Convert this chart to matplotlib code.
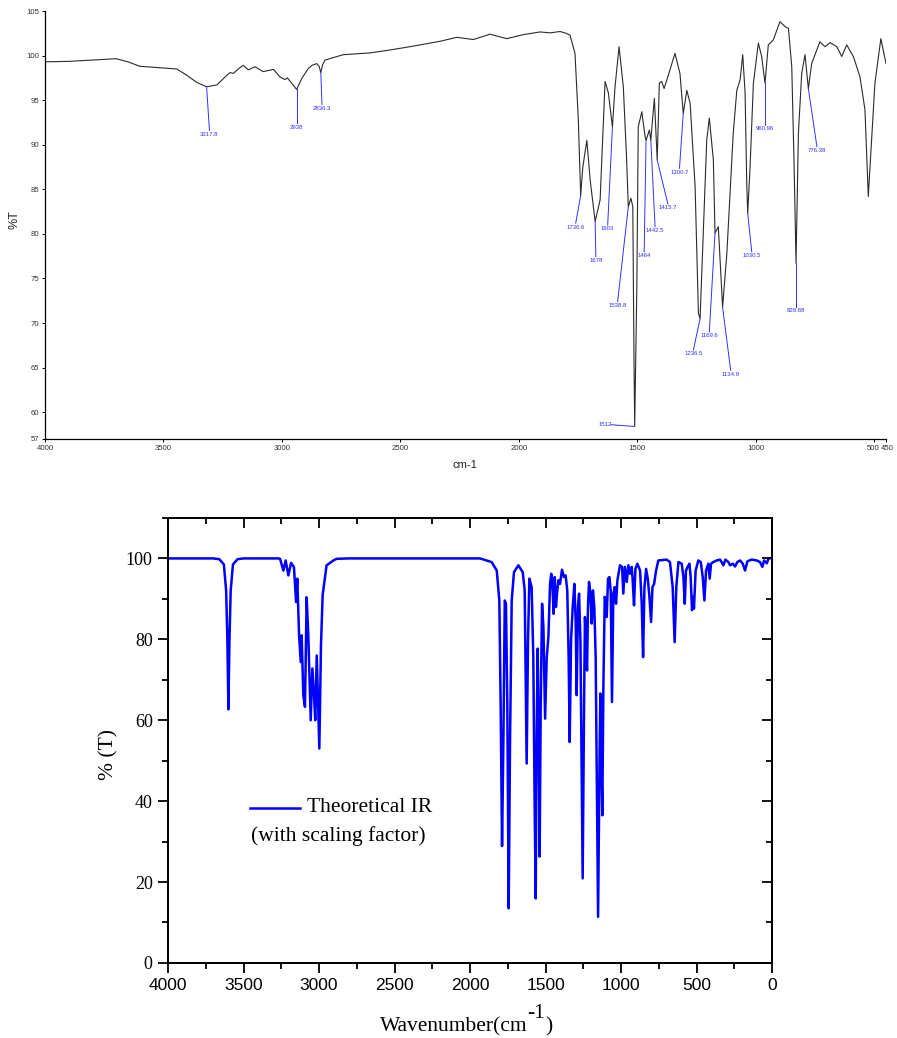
import numpy as np
import matplotlib
matplotlib.use("Agg")
import matplotlib.pyplot as plt
from matplotlib.ticker import MultipleLocator
from matplotlib.transforms import ScaledTranslation

exp_wn = [4000, 3900, 3800, 3700, 3650, 3600, 3500, 3444, 3402, 3360, 3318, 3275, 3240,
          3219, 3205, 3180, 3163, 3142, 3114, 3079, 3036, 3008, 2987, 2977, 2959, 2938,
          2916, 2890, 2874, 2853, 2843, 2836, 2828, 2818, 2741, 2628, 2551, 2459, 2333,
          2262, 2192, 2122, 2051, 1981, 1911, 1868, 1826, 1800, 1784, 1763, 1749, 1739,
          1730, 1713, 1699, 1678, 1657, 1636, 1622, 1605, 1594, 1577, 1559, 1545, 1538,
          1527, 1519, 1514, 1511, 1502, 1496, 1481, 1467, 1463, 1449, 1443, 1428, 1421,
          1416, 1407, 1397, 1387, 1369, 1341, 1320, 1306, 1291, 1277, 1256, 1242, 1235,
          1207, 1196, 1179, 1172, 1158, 1140, 1122, 1095, 1080, 1066, 1055, 1045, 1038,
          1034, 1024, 1010, 989, 975, 961, 947, 926, 898, 876, 862, 848, 838, 830, 820,
          806, 792, 778, 764, 750, 729, 708, 686, 658, 637, 616, 588, 560, 539, 525, 511,
          497, 472, 450]
exp_t = [99.3, 99.35, 99.5, 99.65, 99.3, 98.8, 98.6, 98.5, 97.8, 97.0, 96.5, 96.7, 97.6,
         98.1, 98.0, 98.6, 98.9, 98.4, 98.75, 98.2, 98.45, 97.6, 97.3, 97.5, 96.9, 96.2,
         97.45, 98.5, 98.9, 99.1, 98.8, 98.1, 99.0, 99.5, 100.1, 100.3, 100.6, 101.0, 101.6,
         102.05, 101.8, 102.4, 101.9, 102.35, 102.65, 102.55, 102.7, 102.5, 102.3, 100.25, 92.8, 84.3,
         87.5, 90.5, 86.05, 81.4, 83.8, 97.1, 95.8, 92.0, 96.5, 101.0, 96.5, 88.3, 83.05,
         84.0, 83.05, 65.9, 58.4, 74.1, 92.0, 93.7, 90.9, 90.5, 91.65, 90.5, 95.2, 91.3,
         88.3, 96.9, 97.1, 96.3, 97.8, 100.25, 98.0, 93.5, 96.1, 94.65, 85.3, 71.1, 70.5,
         90.5, 93.0, 88.3, 80.1, 80.8, 71.8, 77.8, 91.3, 96.1, 97.3, 100.1, 95.8, 85.65,
         82.3, 87.5, 96.9, 101.4, 99.9, 96.9, 101.2, 101.75, 103.8, 103.25, 103.05, 98.75, 87.5, 76.7, 91.3,
         98.0, 100.1, 96.3, 99.1, 100.1, 101.55, 101.0, 101.45, 101.0, 99.9, 101.2, 99.9, 97.6, 93.9, 84.2, 90.5,
         96.9, 101.9, 99.1]

# peak annotations: text, peak point, end of leader line
peak_text = ["3317.8", "2938", "2836.3", "1736.6", "1678", "1603", "1538.8", "1512",
             "1464", "1442.5", "1415.7", "1300.7", "1236.5", "1169.6", "1134.9",
             "1030.5", "960.96", "829.88", "776.38"]
peak_x = [3318, 2938, 2836, 1739, 1678, 1605, 1538, 1511, 1463, 1443, 1416, 1306, 1235,
          1172, 1140, 1034, 961, 830, 778]
peak_y = [96.5, 96.2, 98.1, 84.3, 81.4, 92.0, 83.05, 58.4, 90.5, 90.5, 88.3, 93.5, 70.5,
          80.1, 71.8, 82.3, 96.9, 76.7, 96.3]
lead_x = [3306, 2938, 2831, 1760, 1675, 1625, 1583, 1611, 1471, 1425, 1371, 1322, 1263,
          1196, 1106, 1017, 961, 830, 742]
lead_y = [91.6, 92.4, 94.5, 81.2, 77.45, 81.0, 72.4, 58.6, 78.0, 80.8, 83.35, 87.35, 67.0,
          69.0, 64.7, 78.0, 92.2, 71.8, 89.8]

# theoretical IR (bottom panel)
th_wn = [4000, 3700, 3660, 3630, 3615, 3607, 3600, 3593, 3585, 3570, 3540, 3500, 3270,
         3258, 3236, 3221, 3203, 3185, 3166, 3152, 3144, 3132, 3121, 3115, 3104, 3093,
         3082, 3071, 3055, 3044, 3033, 3025, 3015, 2998, 2987, 2976, 2950, 2900, 2883,
         2800, 1934, 1857, 1823, 1806, 1797, 1788, 1779, 1770, 1762, 1753, 1744, 1735,
         1724, 1709, 1680, 1651, 1638, 1629, 1625, 1616, 1607, 1592, 1581, 1572, 1565,
         1559, 1552, 1545, 1539, 1532, 1523, 1514, 1503, 1492, 1481, 1470, 1462, 1453,
         1446, 1439, 1431, 1424, 1415, 1404, 1391, 1378, 1367, 1356, 1347, 1340, 1331,
         1320, 1309, 1300, 1294, 1285, 1278, 1269, 1261, 1254, 1245, 1239, 1230, 1225,
         1219, 1212, 1203, 1194, 1186, 1177, 1168, 1161, 1152, 1142, 1137, 1131, 1124,
         1117, 1108, 1102, 1095, 1086, 1077, 1068, 1060, 1051, 1042, 1033, 1024, 1007,
         993, 985, 974, 962, 951, 940, 929, 923, 914, 905, 892, 874, 863, 854, 845, 834,
         823, 812, 801, 792, 781, 768, 753, 698, 676, 658, 645, 634, 620, 598, 587, 578,
         570, 559, 547, 539, 530, 523, 517, 506, 488, 472, 459, 448, 437, 422, 413, 404,
         389, 366, 344, 322, 309, 289, 278, 260, 245, 230, 212, 194, 179, 163, 135, 102,
         80, 64, 53, 35, 24, 2]
th_t = [100, 100, 99.8, 98.5, 92, 80, 62.7, 80, 92, 98.5, 99.8, 100, 100,
        99.9, 97.0, 99.5, 95.8, 98.9, 97.9, 89.2, 95.0, 81.0, 74.4, 81.0, 66.2, 63.3,
        90.4, 81.0, 60.0, 72.8, 66.2, 60.0, 76.0, 53.0, 78.5, 90.9, 98.3, 99.6, 99.9,
        100, 100, 99.1, 97.0, 89.6, 63.3, 28.9, 55.1, 89.6, 88.8, 63.3, 13.5, 55.1,
        89.6, 96.6, 98.3, 96.6, 92.1, 63.3, 49.3, 79.75, 95.0, 92.9, 75.6, 38.6, 15.96,
        55.1, 77.7, 55.1, 26.3, 63.3, 88.8, 83.0, 60.4, 75.6, 80.6, 93.7, 96.2, 92.1,
        86.3, 95.4, 88.0, 91.3, 94.6, 93.7, 97.2, 95.4, 95.8, 92.1, 75.6, 54.6, 79.75,
        88.0, 93.7, 83.9, 66.2, 88.0, 91.3, 79.75, 46.8, 20.9, 63.3, 85.5, 75.6, 72.3,
        88.0, 94.2, 91.3, 83.9, 92.1, 88.0, 75.6, 46.8, 11.4, 51.8, 66.6, 51.8, 36.5,
        68.2, 90.5, 89.6, 85.5, 95.0, 95.4, 91.7, 64.5, 91.3, 92.9, 88.8, 94.6, 98.3,
        97.9, 91.3, 97.9, 94.2, 98.3, 96.2, 97.9, 94.6, 88.4, 97.4, 98.7, 97.0, 88.8, 75.6, 92.9, 97.4,
        95.0, 90.5, 84.3, 92.9, 93.7, 97.0, 99.5, 99.7, 99.1, 92.9, 79.3, 92.9, 99.1, 98.7, 95.4, 88.8,
        97.0, 97.9, 98.7, 95.4, 87.2, 90.5, 87.6, 97.0, 99.5, 99.1, 95.4, 89.6, 97.0, 98.7, 95.0, 98.7,
        99.1, 99.5, 99.7, 98.3, 99.7, 99.1, 98.3, 98.7, 98.0, 99.1, 99.5, 98.7, 97.0, 99.3, 99.7, 99.5,
        99.1, 97.9, 99.5, 98.8, 99.9, 100.2]

fig = plt.figure(figsize=(8.97, 10.38), dpi=100)
W, H = 897, 1038

# ---------- top panel ----------
ax1 = fig.add_axes([0.0502, 0.5771, 0.9376, 0.4123])
ax1.plot(exp_wn, exp_t, color="#2b2b2b", lw=0.8)
for txt, x0, y0, x1, y1 in zip(peak_text, peak_x, peak_y, lead_x, lead_y):
    ax1.plot([x0, x1], [y0, y1], color="#3030ff", lw=0.7)
    if txt == "1512":
        ax1.text(x1 - 5, y1, txt, fontsize=4.3, color="#3030ff", ha="right", va="center",
                 family="Liberation Sans")
    else:
        ax1.text(x1, y1 - 0.15, txt, fontsize=4.3, color="#3030ff", ha="center", va="top",
                 family="Liberation Sans")
ax1.set_xlim(4000, 450)
ax1.set_ylim(57, 105)
ax1.set_xticks([4000, 3500, 3000, 2500, 2000, 1500, 1000, 500, 450])
ax1.set_yticks([57, 60, 65, 70, 75, 80, 85, 90, 95, 100, 105])
ax1.spines["top"].set_visible(False)
ax1.spines["right"].set_visible(False)
for s in ("left", "bottom"):
    ax1.spines[s].set_linewidth(0.9)
ax1.tick_params(direction="out", length=2.5, width=0.7, labelsize=5.6, pad=1.5,
                labelcolor="#333333")
for lab in ax1.get_xticklabels() + ax1.get_yticklabels():
    lab.set_family("Liberation Sans")
# the 500 and 450 labels sit side by side, as in the original
xl = ax1.get_xticklabels()
xl[-2].set_transform(xl[-2].get_transform() + ScaledTranslation(-1 / 100, 0, fig.dpi_scale_trans))
xl[-1].set_transform(xl[-1].get_transform() + ScaledTranslation(1.5 / 100, 0, fig.dpi_scale_trans))
fig.text(15 / W, 1 - 220 / H, "%T", rotation=90, ha="center", va="center",
         fontsize=9, family="Liberation Sans", color="#222222")
fig.text(465 / W, 1 - 465 / H, "cm-1", ha="center", va="center",
         fontsize=8, family="Liberation Sans", color="#222222")

# ---------- bottom panel ----------
ax2 = fig.add_axes([0.1873, 0.0723, 0.6734, 0.4287])
ax2.plot(th_wn, th_t, color="#0000ff", lw=1.8, solid_joinstyle="round")
ax2.set_xlim(4000, 0)
ax2.set_ylim(0, 110)
ax2.set_xticks(np.arange(0, 4001, 500))
ax2.set_yticks(np.arange(0, 101, 20))
ax2.xaxis.set_minor_locator(MultipleLocator(250))
ax2.yaxis.set_minor_locator(MultipleLocator(10))
for s in ax2.spines.values():
    s.set_linewidth(1.3)
ax2.tick_params(which="major", direction="out", length=7, width=1.3, pad=4)
ax2.tick_params(which="minor", direction="out", length=4, width=1.3)
ax2.tick_params(axis="x", labelsize=12.5)
ax2.tick_params(axis="y", labelsize=13)
for lab in ax2.get_xticklabels():
    lab.set_family("Liberation Sans")
for lab in ax2.get_yticklabels():
    lab.set_family("Liberation Serif")

# mirrored ticks on top and right point inwards
axt = ax2.twiny()
axt.set_xlim(4000, 0)
axt.set_xticks(np.arange(0, 4001, 500))
axt.xaxis.set_minor_locator(MultipleLocator(250))
axt.tick_params(which="major", direction="in", length=7, width=1.3, labeltop=False)
axt.tick_params(which="minor", direction="in", length=4, width=1.3)
axr = ax2.twinx()
axr.set_ylim(0, 110)
axr.set_yticks(np.arange(0, 101, 20))
axr.yaxis.set_minor_locator(MultipleLocator(10))
axr.tick_params(which="major", direction="in", length=7, width=1.3, labelright=False)
axr.tick_params(which="minor", direction="in", length=4, width=1.3)
for a in (axt, axr):
    for s in a.spines.values():
        s.set_linewidth(1.3)

# legend drawn by hand to keep the two-line layout
ax2.plot([0.136, 0.2185], [0.349, 0.349], transform=ax2.transAxes, color="#0000ff", lw=1.8)
ax2.text(0.2296, 0.349, "Theoretical IR", transform=ax2.transAxes, ha="left", va="center",
         fontsize=15.5, family="Liberation Serif")
ax2.text(0.137, 0.285, "(with scaling factor)", transform=ax2.transAxes, ha="left", va="center",
         fontsize=15.5, family="Liberation Serif")

fig.text(109 / W, 1 - 755 / H, "% (T)", rotation=90, ha="center", va="center",
         fontsize=15.5, family="Liberation Serif")

# x label with a full-size raised "-1", built from three pieces
renderer = fig.canvas.get_renderer()
t1 = fig.text(380 / W, 1 - 1031 / H, "Wavenumber(cm", ha="left", va="baseline",
              fontsize=15.5, family="Liberation Serif")
x_end = t1.get_window_extent(renderer).x1
t2 = fig.text(x_end / W, 1 - 1018 / H, "-1", ha="left", va="baseline",
              fontsize=15.5, family="Liberation Serif")
x_end2 = t2.get_window_extent(renderer).x1
fig.text(x_end2 / W, 1 - 1031 / H, ")", ha="left", va="baseline",
         fontsize=15.5, family="Liberation Serif")

fig.savefig("out.png", dpi=100)
